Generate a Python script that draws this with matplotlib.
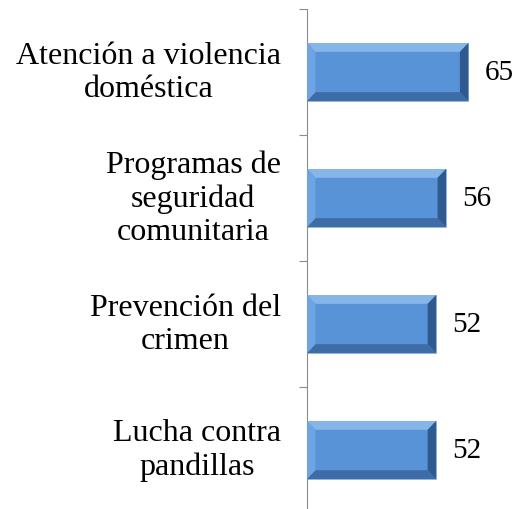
import matplotlib.pyplot as plt
from matplotlib.patches import Polygon
import numpy as np

plt.rcParams['font.family'] = ['Liberation Serif', 'DejaVu Serif']

categories = ['Atención a violencia\ndoméstica',
              'Programas de\nseguridad\ncomunitaria',
              'Prevención del\ncrimen',
              'Lucha contra\npandillas']
values = [65, 56, 52, 52]

fig = plt.figure(figsize=(5.18, 5.10), dpi=100)
ax = fig.add_axes([307/518, -4/510, 1 - 307/518, 504/510])

ypos = np.arange(len(values))
h = 0.46
bars = ax.barh(ypos, values, height=h, color='#5893d8', edgecolor='#8fb4e0', linewidth=0.6, zorder=2)

# bevel effect
bx, by = 3.4, 0.07
for y, v in zip(ypos, values):
    top, bot = y - h / 2, y + h / 2
    faces = [
        ([(0, top), (v, top), (v - bx, top + by), (bx, top + by)], '#86b5ea'),
        ([(0, bot), (v, bot), (v - bx, bot - by), (bx, bot - by)], '#3d6ca6'),
        ([(0, top), (bx, top + by), (bx, bot - by), (0, bot)], '#6ea4e2'),
        ([(v, top), (v - bx, top + by), (v - bx, bot - by), (v, bot)], '#2f5a90'),
    ]
    for pts, col in faces:
        ax.add_patch(Polygon(pts, closed=True, facecolor=col, edgecolor='none', zorder=3))
    ax.text(v + 6.6, y, str(v), va='center', ha='left', fontsize=21)

ax.set_xlim(0, 85)
ax.set_ylim(len(values) - 0.5, -0.5)
ax.set_yticks(np.arange(len(values) + 1) - 0.5)
ax.set_yticklabels([])
ax.tick_params(axis='y', length=6, color='#8c8c8c', direction='out')
ax.set_xticks([])
for s in ['top', 'right', 'bottom']:
    ax.spines[s].set_visible(False)
ax.spines['left'].set_color('#8c8c8c')

for y, lab in zip(ypos, categories):
    ax.text(-10.5, y, lab, ha='right', va='center', multialignment='center',
            fontsize=23, linespacing=1.2)

fig.savefig('out.png', dpi=100)
